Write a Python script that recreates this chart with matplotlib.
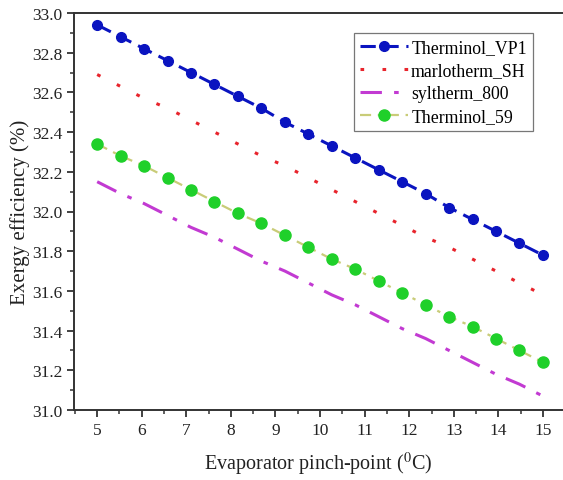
import numpy as np
import matplotlib
matplotlib.use("Agg")
import matplotlib.pyplot as plt
from matplotlib.ticker import MultipleLocator

plt.rcParams['font.family'] = ['Liberation Serif', 'DejaVu Serif']
plt.rcParams['mathtext.fontset'] = 'stix'

# Evaporator pinch-point temperature (°C)
pinch = np.linspace(5, 15, 20)

# Exergy efficiency (%) for each heat-transfer fluid
vp1 = [32.94, 32.88, 32.82, 32.76, 32.70, 32.64, 32.58, 32.52, 32.45, 32.39,
       32.33, 32.27, 32.21, 32.15, 32.09, 32.02, 31.96, 31.90, 31.84, 31.78]
marlotherm = [32.69, 32.63, 32.57, 32.52, 32.46, 32.40, 32.34, 32.28, 32.23, 32.17,
              32.11, 32.05, 31.99, 31.93, 31.87, 31.82, 31.76, 31.70, 31.64, 31.58]
syltherm = [32.15, 32.09, 32.04, 31.98, 31.92, 31.87, 31.81, 31.75, 31.70, 31.64,
            31.58, 31.53, 31.47, 31.41, 31.36, 31.30, 31.24, 31.18, 31.13, 31.07]
t59 = [32.34, 32.28, 32.23, 32.17, 32.11, 32.05, 31.99, 31.94, 31.88, 31.82,
       31.76, 31.71, 31.65, 31.59, 31.53, 31.47, 31.42, 31.36, 31.30, 31.24]

W, H = 563, 481
fig = plt.figure(figsize=(W / 100, H / 100), dpi=100)
left, right, top, bottom = 74, 563, 14, 411
ax = fig.add_axes([left / W, 1 - bottom / H, (right - left) / W, (bottom - top) / H])

ax.plot(pinch, vp1, color='#0a14c0', linestyle=(0, (5, 2.5)), linewidth=2.2,
        marker='o', markersize=7, label='Therminol_VP1')
ax.plot(pinch, marlotherm, color='#e8242c', linestyle=(0, (1.2, 6)), linewidth=2.2,
        label='marlotherm_SH')
ax.plot(pinch, syltherm, color='#c23ad2', linestyle=(0, (7, 4, 1.5, 4)), linewidth=2.2,
        label='syltherm_800')
ax.plot(pinch, t59, color='#c9cc78', linestyle=(0, (5, 3, 1.5, 3)), linewidth=1.6,
        marker='o', markersize=8, markerfacecolor='#1fd02a', markeredgecolor='#1fd02a',
        label='Therminol_59')

ax.set_xlim(4.48, 15.45)
ax.set_ylim(31.0, 33.0)
ax.xaxis.set_major_locator(MultipleLocator(1))
ax.xaxis.set_minor_locator(MultipleLocator(0.5))
ax.yaxis.set_major_locator(MultipleLocator(0.2))
ax.yaxis.set_minor_locator(MultipleLocator(0.1))
ax.yaxis.set_major_formatter(matplotlib.ticker.FormatStrFormatter('%.1f'))

for s in ['left', 'bottom', 'top']:
    ax.spines[s].set_color('#333333')
    ax.spines[s].set_linewidth(1.4)
ax.spines['right'].set_visible(False)
ax.tick_params(which='major', direction='out', length=5, width=1.3, colors='#333333',
               labelsize=12.5, labelcolor='#222222')
ax.tick_params(which='minor', direction='out', length=3, width=1.1, colors='#333333')
ax.tick_params(top=False, right=False, which='both')

ax.set_xlabel('Evaporator pinch-point ($^{0}$C)', fontsize=14.5, color='#222222', labelpad=9)
ax.set_ylabel('Exergy efficiency (%)', fontsize=15, color='#222222', labelpad=1)

leg = ax.legend(loc='upper right', bbox_to_anchor=((533 - left) / (right - left), 1 - (34 - top) / (bottom - top)),
                fontsize=12.8, handlelength=2.7, handletextpad=0.15, borderpad=0.35,
                labelspacing=0.33, borderaxespad=0, fancybox=False, framealpha=1)
leg.get_frame().set_edgecolor('#777777')
leg.get_frame().set_linewidth(0.9)

fig.savefig('out.png', dpi=100)
